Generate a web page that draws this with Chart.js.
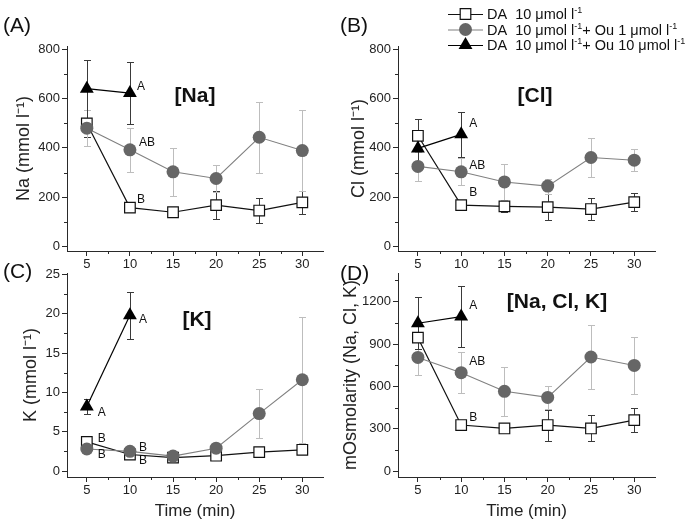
<!DOCTYPE html>
<html><head><meta charset="utf-8">
<script src="https://cdn.jsdelivr.net/npm/chart.js@4/dist/chart.umd.min.js"></script>
<style>
html,body{margin:0;padding:0;background:#fff;}
#wrap{position:relative;width:685px;height:522px;overflow:hidden;background:#fff;}
canvas{position:absolute;}
</style></head><body>
<div id="wrap">
<canvas id="cA" style="left:0px;top:0px;width:345px;height:280px" width="345" height="280"></canvas>
<canvas id="cB" style="left:335px;top:0px;width:350px;height:280px" width="350" height="280"></canvas>
<canvas id="cC" style="left:0px;top:262px;width:345px;height:260px" width="345" height="260"></canvas>
<canvas id="cD" style="left:335px;top:262px;width:350px;height:260px" width="350" height="260"></canvas>
</div>
<script>
// ---------- data ----------
const times = [5, 10, 15, 20, 25, 30];
const timesOu10 = [5, 10];
const xTickValues = [5, 10, 15, 20, 25, 30];
const xMinorValues = [7.5, 12.5, 17.5, 22.5, 27.5];
const seriesNames = ['DA  10 μmol l⁻¹', 'DA  10 μmol l⁻¹+ Ou 1 μmol l⁻¹', 'DA  10 μmol l⁻¹+ Ou 10 μmol l⁻¹'];

// Na
const naDA = [499, 158, 139, 168, 146, 179];
const naDAErr = [55, 18, 15, 58, 50, 47];
const naOu1 = [480, 392, 303, 276, 443, 389];
const naOu1Err = [72, 90, 98, 55, 145, 165];
const naOu10 = [640, 622];
const naOu10Err = [118, 125];
const naTicks = [0, 200, 400, 600, 800];
const naMinor = [100, 300, 500, 700];

// Cl
const clDA = [449, 168, 163, 160, 152, 180];
const clDAErr = [67, 12, 22, 52, 45, 37];
const clOu1 = [325, 303, 262, 245, 361, 350];
const clOu1Err = [60, 55, 72, 30, 81, 44];
const clOu10 = [398, 455];
const clOu10Err = [75, 90];
const clTicks = [0, 200, 400, 600, 800];
const clMinor = [100, 300, 500, 700];

// K
const kDA = [3.7, 2.1, 1.7, 1.95, 2.4, 2.7];
const kDAErr = [0.5, 0.3, 0.4, 0.3, 0.3, 0.3];
const kOu1 = [2.8, 2.5, 1.9, 2.9, 7.3, 11.6];
const kOu1Err = [0.3, 0.4, 0.3, 0.3, 3.1, 8.0];
const kOu10 = [8.2, 19.8];
const kOu10Err = [1.0, 3.0];
const kTicks = [0, 5, 10, 15, 20, 25];
const kMinor = [2.5, 7.5, 12.5, 17.5, 22.5];

// mOsmolarity
const osmDA = [945, 326, 302, 326, 302, 361];
const osmDAErr = [110, 25, 20, 110, 92, 83];
const osmOu1 = [805, 697, 565, 522, 808, 748];
const osmOu1Err = [125, 143, 172, 83, 225, 200];
const osmOu10 = [1047, 1094];
const osmOu10Err = [185, 215];
const osmTicks = [0, 300, 600, 900, 1200];
const osmMinor = [150, 450, 750, 1050, 1350];

// ---------- styling / helpers ----------
const FONT = "'Liberation Sans', Arial, Helvetica, sans-serif";
const AXIS = '#2a2a2a';
const toXY = (xs, ys) => xs.map((x, i) => ({x: x, y: ys[i]}));

const errorBars = {
  id: 'errorBars',
  beforeDatasetsDraw(chart) {
    const ctx = chart.ctx, xs = chart.scales.x, ys = chart.scales.y;
    chart.data.datasets.forEach(ds => {
      if (!ds.errors) return;
      ctx.save();
      ctx.strokeStyle = ds.errColor;
      ctx.lineWidth = 1;
      ctx.beginPath();
      ds.data.forEach((p, j) => {
        const e = ds.errors[j];
        const px = Math.round(xs.getPixelForValue(p.x)) + 0.5;
        const y1 = Math.round(ys.getPixelForValue(p.y + e)) + 0.5;
        const y2 = Math.round(ys.getPixelForValue(p.y - e)) + 0.5;
        ctx.moveTo(px, y1); ctx.lineTo(px, y2);
        ctx.moveTo(px - 3.5, y1); ctx.lineTo(px + 3.5, y1);
        ctx.moveTo(px - 3.5, y2); ctx.lineTo(px + 3.5, y2);
      });
      ctx.stroke();
      ctx.restore();
    });
  }
};

const minorTicks = {
  id: 'minorTicks',
  afterDraw(chart, args, opts) {
    const ctx = chart.ctx, a = chart.chartArea;
    ctx.save();
    ctx.strokeStyle = AXIS; ctx.lineWidth = 1;
    ctx.beginPath();
    (opts.x || []).forEach(v => {
      const px = Math.round(chart.scales.x.getPixelForValue(v)) + 0.5;
      ctx.moveTo(px, a.bottom); ctx.lineTo(px, a.bottom + 3);
    });
    (opts.y || []).forEach(v => {
      const py = Math.round(chart.scales.y.getPixelForValue(v)) + 0.5;
      ctx.moveTo(a.left, py); ctx.lineTo(a.left - 3, py);
    });
    ctx.stroke();
    ctx.restore();
  }
};

function drawMarker(ctx, style, x, y) {
  ctx.save();
  ctx.beginPath();
  if (style === 'rect') {
    ctx.rect(x - 5.3, y - 5.3, 10.6, 10.6);
    ctx.fillStyle = '#fff'; ctx.fill();
    ctx.lineWidth = 1.2; ctx.strokeStyle = '#111'; ctx.stroke();
  } else if (style === 'circle') {
    ctx.arc(x, y, 6.5, 0, Math.PI * 2);
    ctx.fillStyle = '#666'; ctx.fill();
  } else {
    const r = 8;
    ctx.moveTo(x, y - r);
    ctx.lineTo(x + r * 0.866, y + r * 0.5);
    ctx.lineTo(x - r * 0.866, y + r * 0.5);
    ctx.closePath();
    ctx.fillStyle = '#000'; ctx.fill();
  }
  ctx.restore();
}

// draws text where "⁻¹" is rendered as a small raised "-1"
function drawRich(ctx, text, x, y, size) {
  const parts = text.split('⁻¹');
  let cx = x;
  parts.forEach((part, k) => {
    ctx.font = size + 'px ' + FONT;
    ctx.fillText(part, cx, y);
    cx += ctx.measureText(part).width;
    if (k < parts.length - 1) {
      ctx.font = Math.round(size * 0.62) + 'px ' + FONT;
      ctx.fillText('-1', cx, y - size * 0.38);
      cx += ctx.measureText('-1').width;
    }
  });
}

const annotations = {
  id: 'annotations',
  afterDatasetsDraw(chart, args, o) {
    const ctx = chart.ctx;
    ctx.save();
    ctx.fillStyle = '#111';
    // panel letter
    ctx.font = '21px ' + FONT;
    ctx.textAlign = 'left'; ctx.textBaseline = 'middle';
    ctx.fillText(o.letter.t, o.letter.x, o.letter.y);
    // panel title
    ctx.font = 'bold 21px ' + FONT;
    ctx.textAlign = 'center';
    ctx.fillText(o.title.t, o.title.x, o.title.y);
    // significance letters anchored to data points
    ctx.font = '12px ' + FONT;
    ctx.textAlign = 'left';
    (o.sig || []).forEach(s => {
      const el = chart.getDatasetMeta(s.ds).data[s.i];
      ctx.fillText(s.t, el.x + s.dx, el.y + s.dy);
    });
    // legend
    if (o.legend) {
      const L = o.legend;
      chart.data.datasets.forEach((ds, k) => {
        const yy = L.y + k * L.gap;
        ctx.strokeStyle = ds.borderColor; ctx.lineWidth = 1.2;
        ctx.beginPath(); ctx.moveTo(L.x0, yy + 0.5); ctx.lineTo(L.x1, yy + 0.5); ctx.stroke();
        drawMarker(ctx, ds.pointStyle, (L.x0 + L.x1) / 2, yy);
        ctx.fillStyle = '#111';
        ctx.textBaseline = 'alphabetic';
        drawRich(ctx, ds.label, L.tx, yy + 5, 14.5);
      });
    }
    ctx.restore();
  }
};

function makePanel(id, p) {
  const datasets = [
    {label: seriesNames[0], data: toXY(times, p.da), errors: p.daErr, errColor: '#3a3a3a',
     pointStyle: 'rect', pointRadius: 7.5, pointBackgroundColor: '#fff', pointBorderColor: '#111',
     pointBorderWidth: 1.2, borderColor: '#111', borderWidth: 1.2, order: 3},
    {label: seriesNames[1], data: toXY(times, p.ou1), errors: p.ou1Err, errColor: '#bdbdbd',
     pointStyle: 'circle', pointRadius: 6.5, pointBackgroundColor: '#666', pointBorderColor: '#666',
     pointBorderWidth: 0, borderColor: '#808080', borderWidth: 1.1, order: 2},
    {label: seriesNames[2], data: toXY(timesOu10, p.ou10), errors: p.ou10Err, errColor: '#3a3a3a',
     pointStyle: 'triangle', pointRadius: 8, pointBackgroundColor: '#000', pointBorderColor: '#000',
     pointBorderWidth: 0, borderColor: '#000', borderWidth: 1.2, order: 1}
  ];
  return new Chart(document.getElementById(id), {
    type: 'line',
    data: {datasets: datasets},
    plugins: [errorBars, minorTicks, annotations],
    options: {
      responsive: false, animation: false, devicePixelRatio: 1,
      layout: {padding: {left: 0, top: p.padTop, right: p.padRight, bottom: 0}},
      elements: {line: {tension: 0, fill: false}},
      plugins: {
        legend: {display: false}, tooltip: {enabled: false},
        minorTicks: {x: xMinorValues, y: p.yMinor},
        annotations: p.ann
      },
      scales: {
        x: {
          type: 'linear', min: 2.7, max: 32.4,
          afterBuildTicks: s => { s.ticks = xTickValues.map(v => ({value: v})); },
          afterFit: s => { s.height = p.xh; },
          grid: {drawOnChartArea: false, drawTicks: true, tickLength: 5, color: AXIS},
          border: {display: true, color: AXIS, width: 1},
          ticks: {font: {family: FONT, size: 13}, color: '#222', padding: 1, maxRotation: 0,
                  callback: v => String(v)},
          title: {display: p.xTitle, text: 'Time (min)', font: {family: FONT, size: 17}, color: '#222',
                  padding: {top: 0, bottom: 0}}
        },
        y: {
          type: 'linear', min: p.ymin, max: p.ymax,
          afterBuildTicks: s => { s.ticks = p.yTicks.map(v => ({value: v})); },
          afterFit: s => { s.width = p.yw; },
          grid: {drawOnChartArea: false, drawTicks: true, tickLength: 5, color: AXIS},
          border: {display: true, color: AXIS, width: 1},
          ticks: {font: {family: FONT, size: 13}, color: '#222', padding: 2, callback: v => String(v)},
          title: {display: true, text: p.yTitle, font: {family: FONT, size: 18}, color: '#222',
                  padding: {top: p.yTitlePad, bottom: 0}}
        }
      }
    }
  });
}

makePanel('cA', {
  da: naDA, daErr: naDAErr, ou1: naOu1, ou1Err: naOu1Err, ou10: naOu10, ou10Err: naOu10Err,
  yTicks: naTicks, yMinor: naMinor, ymin: -18, ymax: 813,
  padTop: 46, padRight: 22, yw: 67, xh: 29, xTitle: false,
  yTitle: 'Na (mmol l⁻¹)', yTitlePad: 13,
  ann: {letter: {t: '(A)', x: 3, y: 26}, title: {t: '[Na]', x: 195, y: 96},
        sig: [{ds: 2, i: 1, t: 'A', dx: 7, dy: -6}, {ds: 1, i: 1, t: 'AB', dx: 9, dy: -7},
              {ds: 0, i: 1, t: 'B', dx: 7, dy: -8}]}
});
makePanel('cB', {
  da: clDA, daErr: clDAErr, ou1: clOu1, ou1Err: clOu1Err, ou10: clOu10, ou10Err: clOu10Err,
  yTicks: clTicks, yMinor: clMinor, ymin: -18, ymax: 813,
  padTop: 46, padRight: 30, yw: 63, xh: 29, xTitle: false,
  yTitle: 'Cl (mmol l⁻¹)', yTitlePad: 13,
  ann: {letter: {t: '(B)', x: 5, y: 26}, title: {t: '[Cl]', x: 200, y: 96},
        sig: [{ds: 2, i: 1, t: 'A', dx: 8, dy: -11}, {ds: 1, i: 1, t: 'AB', dx: 8, dy: -6},
              {ds: 0, i: 1, t: 'B', dx: 8, dy: -12}],
        legend: {x0: 113, x1: 148, tx: 152, y: 14, gap: 15.5}}
});
makePanel('cC', {
  da: kDA, daErr: kDAErr, ou1: kOu1, ou1Err: kOu1Err, ou10: kOu10, ou10Err: kOu10Err,
  yTicks: kTicks, yMinor: kMinor, ymin: -0.76, ymax: 25.17,
  padTop: 11, padRight: 22, yw: 67, xh: 45, xTitle: true,
  yTitle: 'K (mmol l⁻¹)', yTitlePad: 20,
  ann: {letter: {t: '(C)', x: 3, y: 10}, title: {t: '[K]', x: 197, y: 58},
        sig: [{ds: 2, i: 0, t: 'A', dx: 11, dy: 6}, {ds: 2, i: 1, t: 'A', dx: 9, dy: 4},
              {ds: 0, i: 0, t: 'B', dx: 11, dy: -3}, {ds: 1, i: 0, t: 'B', dx: 11, dy: 6},
              {ds: 1, i: 1, t: 'B', dx: 9, dy: -4}, {ds: 0, i: 1, t: 'B', dx: 9, dy: 6}]}
});
makePanel('cD', {
  da: osmDA, daErr: osmDAErr, ou1: osmOu1, ou1Err: osmOu1Err, ou10: osmOu10, ou10Err: osmOu10Err,
  yTicks: osmTicks, yMinor: osmMinor, ymin: -42, ymax: 1403,
  padTop: 11, padRight: 30, yw: 63, xh: 45, xTitle: true,
  yTitle: 'mOsmolarity (Na, Cl, K)', yTitlePad: 5,
  ann: {letter: {t: '(D)', x: 5, y: 12}, title: {t: '[Na, Cl, K]', x: 222, y: 40},
        sig: [{ds: 2, i: 1, t: 'A', dx: 8, dy: -11}, {ds: 1, i: 1, t: 'AB', dx: 8, dy: -11},
              {ds: 0, i: 1, t: 'B', dx: 8, dy: -7}]}
});
</script>
</body></html>
